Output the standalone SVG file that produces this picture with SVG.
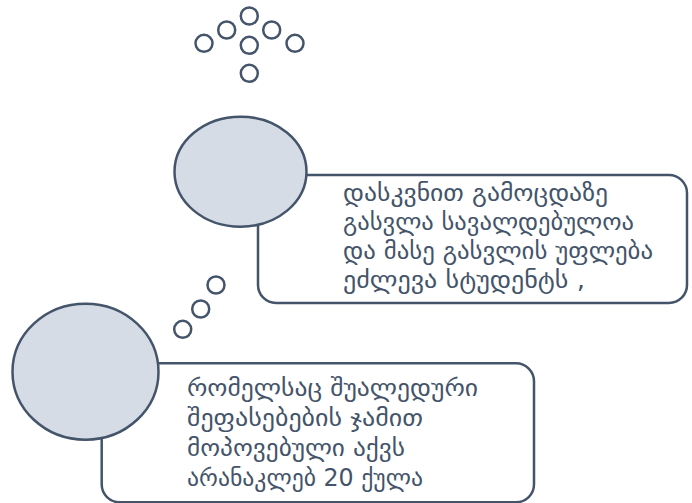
<svg xmlns="http://www.w3.org/2000/svg" width="692" height="503" viewBox="0 0 692 503">
<style>
.box{fill:#ffffff;stroke:#44546a;stroke-width:2.5}
.big{fill:#d6dce5;stroke:#44546a;stroke-width:2.5}
.dot{fill:#ffffff;stroke:#44546a;stroke-width:2.5}
.t{font-family:"DejaVu Sans","Noto Sans",sans-serif;font-size:24px;fill:#44546a}
</style>
<rect width="692" height="503" fill="#ffffff"/>
<g id="dots-top">
<circle class="dot" cx="249.3" cy="16" r="8.5"/>
<circle class="dot" cx="226.7" cy="30" r="8.5"/>
<circle class="dot" cx="271.7" cy="30" r="8.5"/>
<circle class="dot" cx="204" cy="43.3" r="8.5"/>
<circle class="dot" cx="295" cy="43.3" r="8.5"/>
<circle class="dot" cx="249.3" cy="45.3" r="8.5"/>
<circle class="dot" cx="249.3" cy="73.3" r="8.5"/>
</g>
<g id="node1">
<rect class="box" x="258" y="175" width="429" height="128" rx="18"/>
<ellipse class="big" cx="240.5" cy="171.7" rx="66" ry="55"/>
<text class="t" x="343" y="201" textLength="265" lengthAdjust="spacingAndGlyphs">დასკვნით გამოცდაზე</text>
<text class="t" x="343" y="230" textLength="291" lengthAdjust="spacingAndGlyphs">გასვლა სავალდებულოა</text>
<text class="t" x="343" y="259" textLength="310" lengthAdjust="spacingAndGlyphs">და მასე გასვლის უფლება</text>
<text class="t" x="343" y="288" textLength="242" lengthAdjust="spacingAndGlyphs">ეძლევა სტუდენტს ,</text>
</g>
<g id="dots-mid">
<circle class="dot" cx="216" cy="285" r="8.5"/>
<circle class="dot" cx="200.7" cy="309" r="8.5"/>
<circle class="dot" cx="182.7" cy="329.3" r="8.5"/>
</g>
<g id="node2">
<rect class="box" x="101.7" y="363.3" width="432.3" height="139" rx="18"/>
<ellipse class="big" cx="85.5" cy="371.7" rx="73" ry="68"/>
<text class="t" x="187" y="396" textLength="291" lengthAdjust="spacingAndGlyphs">რომელსაც შუალედური</text>
<text class="t" x="187" y="426" textLength="236" lengthAdjust="spacingAndGlyphs">შეფასებების ჯამით</text>
<text class="t" x="187" y="456" textLength="218" lengthAdjust="spacingAndGlyphs">მოპოვებული აქვს</text>
<text class="t" x="187" y="486" textLength="236" lengthAdjust="spacingAndGlyphs">არანაკლებ 20 ქულა</text>
</g>
</svg>
